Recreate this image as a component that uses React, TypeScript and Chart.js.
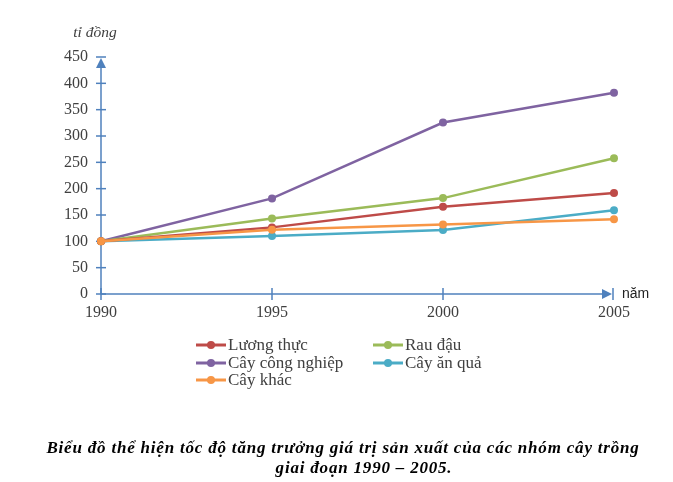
import React, { useEffect, useRef } from "react";
import { Chart, registerables } from "chart.js";

Chart.register(...registerables);

const years = ["1990", "1995", "2000", "2005"];
const luongThuc = [100, 126.5, 165.7, 191.8];
const rauDau = [100, 143.3, 182.1, 257.8];
const cayCongNghiep = [100, 181.5, 325.5, 382.3];
const cayAnQua = [100, 110.0, 121.4, 159.0];
const cayKhac = [100, 122.0, 132.1, 141.8];

const seriesNames = ["Lương thực", "Rau đậu", "Cây công nghiệp", "Cây ăn quả", "Cây khác"];
const seriesData = [luongThuc, rauDau, cayCongNghiep, cayAnQua, cayKhac];
const seriesColors = ["#be4b48", "#9bbb59", "#7f63a1", "#4bacc6", "#f79646"];

const yMin = 0;
const yMax = 450;
const yStep = 50;

const yAxisTitle = "tỉ đồng";
const xAxisTitle = "năm";
const titleLine1 = "Biểu đồ thể hiện tốc độ tăng trưởng giá trị sản xuất của các nhóm cây trồng";
const titleLine2 = "giai đoạn 1990 – 2005.";

const AXIS_COLOR = "#4f81bd";
const TEXT_COLOR = "#404040";
const SERIF = "'Liberation Serif', 'DejaVu Serif', serif";

const decorPlugin = {
  id: "decor",
  beforeDatasetsDraw(chart: any) {
    const ctx = chart.ctx;
    const { left, top, bottom } = chart.chartArea;
    const xs = chart.scales.x;
    const ys = chart.scales.y;
    ctx.save();
    ctx.strokeStyle = AXIS_COLOR;
    ctx.fillStyle = AXIS_COLOR;
    ctx.lineWidth = 1.5;
    ctx.beginPath();
    ctx.moveTo(left, bottom);
    ctx.lineTo(left, top + 6);
    ctx.stroke();
    ctx.beginPath();
    ctx.moveTo(left, top + 1);
    ctx.lineTo(left - 5, top + 11);
    ctx.lineTo(left + 5, top + 11);
    ctx.closePath();
    ctx.fill();
    for (let v = yMin; v <= yMax; v += yStep) {
      const py = ys.getPixelForValue(v);
      ctx.beginPath();
      ctx.moveTo(left - 5, py);
      ctx.lineTo(left + 5, py);
      ctx.stroke();
    }
    const xEnd = xs.getPixelForValue(years.length - 1) - 1;
    ctx.beginPath();
    ctx.moveTo(left, bottom);
    ctx.lineTo(xEnd - 6, bottom);
    ctx.stroke();
    ctx.beginPath();
    ctx.moveTo(xEnd - 1, bottom);
    ctx.lineTo(xEnd - 11, bottom - 5);
    ctx.lineTo(xEnd - 11, bottom + 5);
    ctx.closePath();
    ctx.fill();
    for (let i = 0; i < years.length; i++) {
      const px = i === years.length - 1 ? xEnd : xs.getPixelForValue(i);
      ctx.beginPath();
      ctx.moveTo(px, bottom - 6);
      ctx.lineTo(px, bottom + 6);
      ctx.stroke();
    }
    ctx.restore();
  },
  afterDraw(chart: any) {
    const ctx = chart.ctx;
    const { left, right, bottom } = chart.chartArea;
    ctx.save();
    ctx.fillStyle = TEXT_COLOR;
    ctx.font = `italic 15.5px ${SERIF}`;
    ctx.textAlign = "center";
    ctx.textBaseline = "middle";
    ctx.fillText(yAxisTitle, left - 6, 33);
    ctx.font = "14px 'Liberation Sans', Arial, sans-serif";
    ctx.textAlign = "left";
    ctx.fillStyle = "#222";
    ctx.fillText(xAxisTitle, right + 8, bottom);

    const cols = [196, 373];
    const rows = [345, 363, 380];
    ctx.font = `17px ${SERIF}`;
    ctx.textBaseline = "middle";
    seriesNames.forEach((name, i) => {
      const cx = cols[i % 2];
      const cy = rows[Math.floor(i / 2)];
      ctx.strokeStyle = seriesColors[i];
      ctx.fillStyle = seriesColors[i];
      ctx.lineWidth = 3;
      ctx.beginPath();
      ctx.moveTo(cx, cy);
      ctx.lineTo(cx + 30, cy);
      ctx.stroke();
      ctx.beginPath();
      ctx.arc(cx + 15, cy, 4, 0, Math.PI * 2);
      ctx.fill();
      ctx.fillStyle = TEXT_COLOR;
      ctx.textAlign = "left";
      ctx.fillText(name, cx + 32, cy + 1);
    });

    ctx.fillStyle = "#000";
    ctx.font = `italic bold 17px ${SERIF}`;
    (ctx as any).letterSpacing = "0.8px";
    ctx.textAlign = "center";
    ctx.textBaseline = "alphabetic";
    ctx.fillText(titleLine1, 343, 453);
    ctx.fillText(titleLine2, 364, 473);
    ctx.restore();
  },
};

export default function App() {
  const ref = useRef<HTMLCanvasElement | null>(null);
  useEffect(() => {
    if (!ref.current) return;
    const chart = new Chart(ref.current, {
      type: "line",
      data: {
        labels: years,
        datasets: seriesNames.map((name, i) => ({
          label: name,
          data: seriesData[i],
          borderColor: seriesColors[i],
          backgroundColor: seriesColors[i],
          borderWidth: 2.5,
          pointRadius: 4,
          pointBorderWidth: 0,
          pointBackgroundColor: seriesColors[i],
          tension: 0,
          order: i === 4 ? -1 : i,
        })),
      },
      options: {
        responsive: false,
        animation: false,
        layout: { padding: { left: 0, right: 59, top: 57, bottom: 158 } },
        plugins: { legend: { display: false }, tooltip: { enabled: false }, title: { display: false } },
        scales: {
          x: {
            type: "category",
            offset: false,
            grid: { display: false, drawTicks: false },
            border: { display: false },
            ticks: {
              color: TEXT_COLOR,
              font: { family: SERIF, size: 16 },
              padding: 9,
              maxRotation: 0,
              autoSkip: false,
            },
            afterFit(scale: any) {
              scale.height = 30;
            },
          },
          y: {
            min: yMin,
            max: yMax,
            grid: { display: false, drawTicks: false },
            border: { display: false },
            ticks: {
              stepSize: yStep,
              color: TEXT_COLOR,
              font: { family: SERIF, size: 16 },
              padding: 13,
            },
            afterFit(scale: any) {
              scale.width = 101;
            },
          },
        },
      },
      plugins: [decorPlugin],
    } as any);
    return () => chart.destroy();
  }, []);
  return (
    <div style={{ position: "fixed", left: 0, top: 0, width: 673, height: 482, background: "#fff" }}>
      <canvas ref={ref} width={673} height={482} style={{ width: 673, height: 482 }} />
    </div>
  );
}
